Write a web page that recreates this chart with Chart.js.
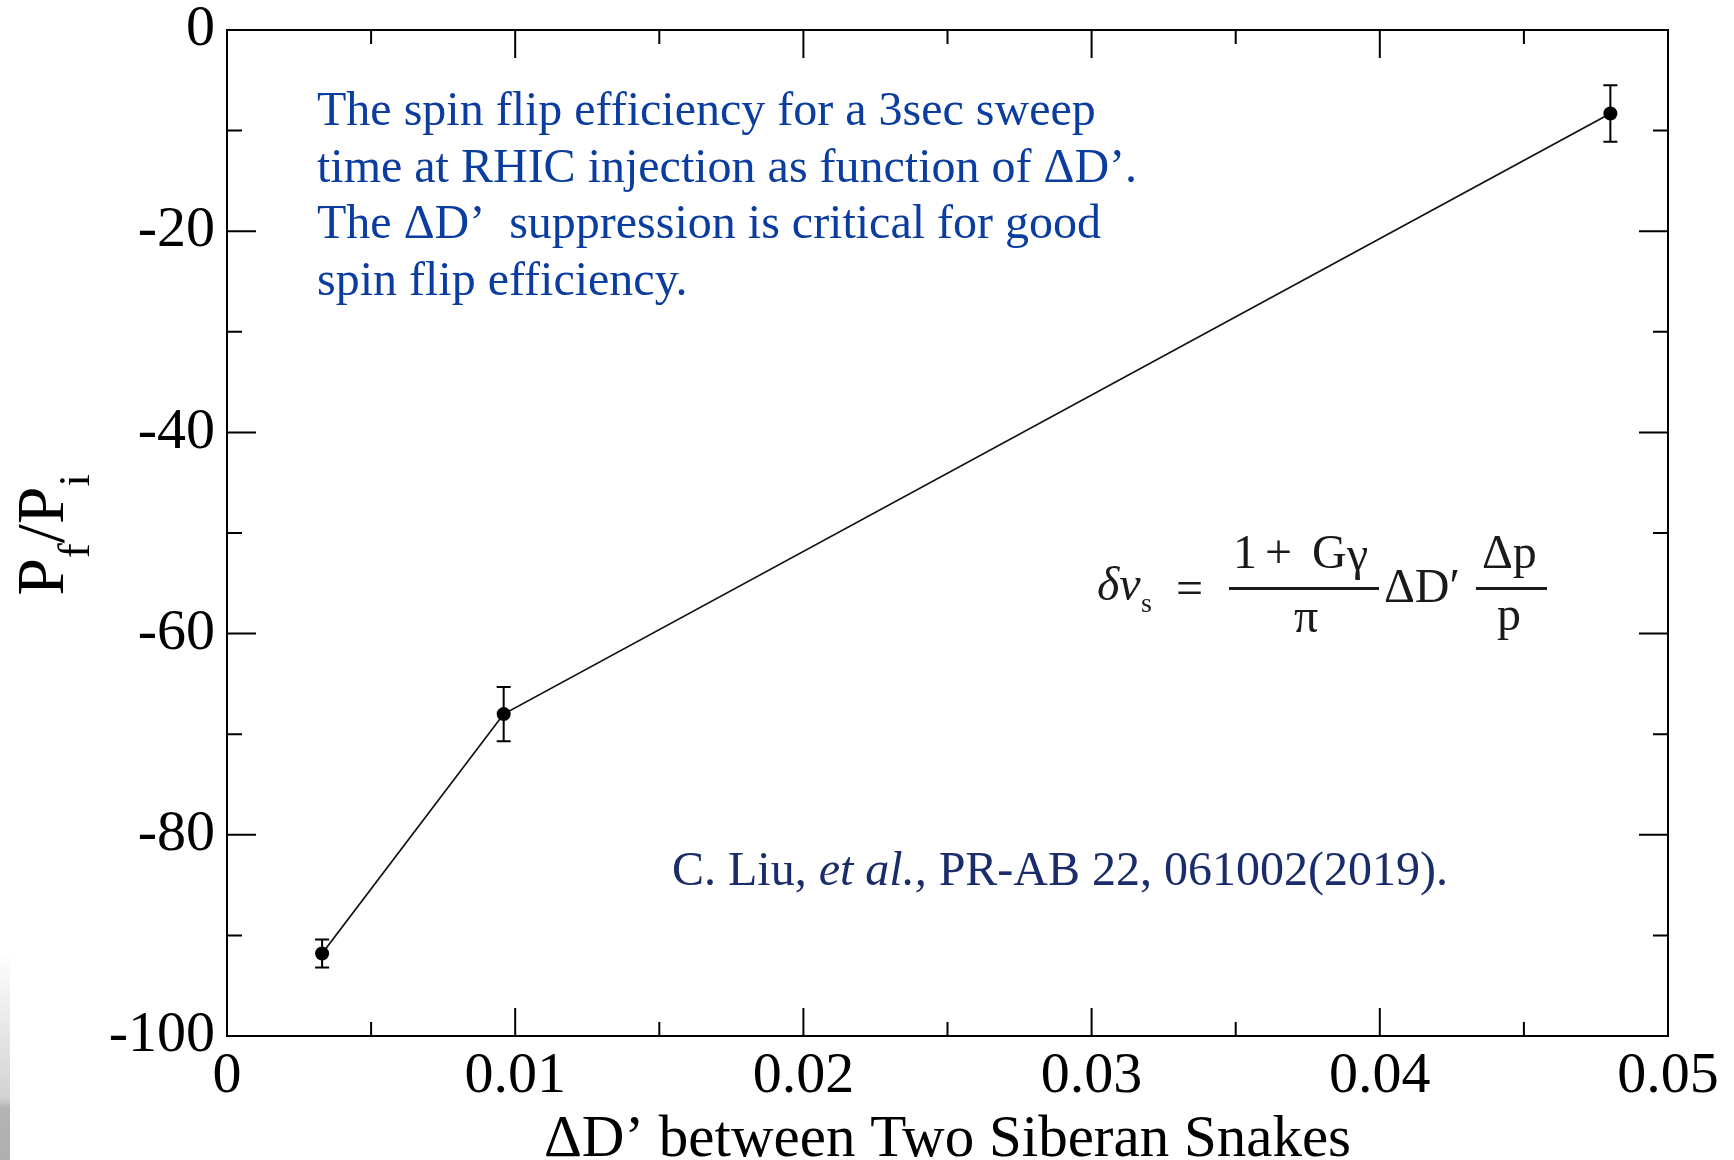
<!DOCTYPE html>
<html>
<head>
<meta charset="utf-8">
<script src="https://cdn.jsdelivr.net/npm/chart.js@4.4.0/dist/chart.umd.min.js"></script>
<style>
  body { margin: 0; background: #fff; }
  canvas { display: block; }
</style>
</head>
<body>
<canvas id="spinChart" width="1734" height="1160"></canvas>
<script>
// values
const deltaD = [0.0033, 0.0096, 0.0480];
const polRatio = [-91.8, -68.0, -8.3];
const polError = [1.4, 2.7, 2.8];

const xTickLabels = ['0', '0.01', '0.02', '0.03', '0.04', '0.05'];
const yTickLabels = ['0', '-20', '-40', '-60', '-80', '-100'];

const noteLines = [
    'The spin flip efficiency for a 3sec sweep',
    'time at RHIC injection as function of \u0394D\u2019.',
    'The \u0394D\u2019  suppression is critical for good',
    'spin flip efficiency.'
];
const xTitle = '\u0394D\u2019 between Two Siberan Snakes';

const serif = "'Liberation Serif', 'Times New Roman', Times, serif";

function isMajor(v, step) {
    const r = v / step;
    return Math.abs(r - Math.round(r)) < 1e-6;
}

function text(ctx, str, x, y, font, color, align) {
    ctx.font = font;
    ctx.fillStyle = color;
    ctx.textAlign = align || 'left';
    ctx.textBaseline = 'alphabetic';
    ctx.fillText(str, x, y);
}

const pageBackground = {
    id: 'pageBackground',
    beforeDraw(chart) {
        const ctx = chart.ctx;
        ctx.save();
        ctx.fillStyle = '#fff';
        ctx.fillRect(0, 0, chart.width, chart.height);
        const g = ctx.createLinearGradient(0, 950, 0, 1160);
        g.addColorStop(0, 'rgba(200,200,200,0)');
        g.addColorStop(0.7, 'rgba(200,200,200,0.8)');
        g.addColorStop(0.75, 'rgba(180,180,180,1)');
        g.addColorStop(1, 'rgba(175,175,175,1)');
        ctx.fillStyle = g;
        ctx.fillRect(0, 950, 10, 210);
        ctx.restore();
    }
};

const errorBars = {
    id: 'errorBars',
    afterDatasetsDraw(chart) {
        const { ctx, scales: { x, y } } = chart;
        ctx.save();
        ctx.strokeStyle = '#000';
        ctx.lineWidth = 2;
        ctx.beginPath();
        deltaD.forEach((d, i) => {
            const px = x.getPixelForValue(d);
            const top = y.getPixelForValue(polRatio[i] + polError[i]);
            const bot = y.getPixelForValue(polRatio[i] - polError[i]);
            ctx.moveTo(px, top); ctx.lineTo(px, bot);
            ctx.moveTo(px - 7, top); ctx.lineTo(px + 7, top);
            ctx.moveTo(px - 7, bot); ctx.lineTo(px + 7, bot);
        });
        ctx.stroke();
        ctx.restore();
    }
};

const frameTicks = {
    id: 'frameTicks',
    afterDraw(chart) {
        const { ctx, chartArea: a, scales: { x, y } } = chart;
        ctx.save();
        ctx.strokeStyle = '#000';
        ctx.lineWidth = 2;
        ctx.strokeRect(a.left, a.top, a.right - a.left, a.bottom - a.top);
        ctx.beginPath();
        x.ticks.forEach(t => {
            const px = x.getPixelForValue(t.value);
            const len = isMajor(t.value, 0.01) ? 28 : 14;
            ctx.moveTo(px, a.bottom); ctx.lineTo(px, a.bottom - len);
            ctx.moveTo(px, a.top); ctx.lineTo(px, a.top + len);
        });
        y.ticks.forEach(t => {
            const py = y.getPixelForValue(t.value);
            const len = isMajor(t.value, 20) ? 29 : 15;
            ctx.moveTo(a.left, py); ctx.lineTo(a.left + len, py);
            ctx.moveTo(a.right, py); ctx.lineTo(a.right - len, py);
        });
        ctx.stroke();
        ctx.restore();
    }
};

const annotations = {
    id: 'annotations',
    afterDraw(chart) {
        const ctx = chart.ctx;
        const a = chart.chartArea;
        ctx.save();

        // blue note
        noteLines.forEach((line, i) => {
            text(ctx, line, 317, 125 + i * 56.5, '48px ' + serif, '#0b3c9f');
        });

        // citation
        let cx = 672;
        const citeColor = '#1b2c6b';
        [['C. Liu, ', ''], ['et al.,', 'italic '], [' PR-AB 22, 061002(2019).', '']].forEach(([s, st]) => {
            text(ctx, s, cx, 885, st + '48px ' + serif, citeColor);
            cx += ctx.measureText(s).width;
        });

        // formula
        const fc = '#1a1a1a';
        const f48 = '48px ' + serif;
        text(ctx, '\u03b4\u03bd', 1097, 600, 'italic 48px ' + serif, fc);
        text(ctx, 's', 1141, 612, '28px ' + serif, fc);
        text(ctx, '=', 1176, 604, f48, fc);
        ctx.fillStyle = fc;
        ctx.fillRect(1229, 587, 150, 3);
        text(ctx, '1', 1233, 568, f48, fc);
        text(ctx, '+', 1265, 568, f48, fc);
        text(ctx, 'G', 1312, 568, f48, fc);
        text(ctx, '\u03b3', 1347, 570, f48, fc);
        text(ctx, '\u03c0', 1294, 632, f48, fc);
        text(ctx, '\u0394D\u2032', 1384, 602, f48, fc);
        ctx.fillRect(1476, 587, 71, 3);
        text(ctx, '\u0394p', 1482, 568, f48, fc);
        text(ctx, 'p', 1497, 630, f48, fc);

        // x axis title
        text(ctx, xTitle, (a.left + a.right) / 2, 1156, '59px ' + serif, '#000', 'center');

        // y axis title P_f/P_i, rotated
        ctx.translate(63, 535);
        ctx.rotate(-Math.PI / 2);
        const big = '68px ' + serif, small = '44px ' + serif;
        const parts = [['P', big, 0], ['f', small, 26], ['/', big, 0], ['P', big, 0], ['i', small, 26]];
        let total = 0;
        parts.forEach(p => { ctx.font = p[1]; total += ctx.measureText(p[0]).width; });
        let px = -total / 2;
        parts.forEach(p => {
            text(ctx, p[0], px, p[2], p[1], '#000');
            px += ctx.measureText(p[0]).width;
        });
        ctx.restore();
    }
};

const ctx = document.getElementById('spinChart').getContext('2d');

new Chart(ctx, {
    type: 'scatter',
    data: {
        datasets: [{
            data: deltaD.map((d, i) => ({ x: d, y: polRatio[i] })),
            showLine: true,
            borderColor: '#111',
            borderWidth: 1.8,
            backgroundColor: '#000',
            pointRadius: 7,
            pointBorderWidth: 0,
            pointHoverRadius: 7
        }]
    },
    options: {
        responsive: false,
        animation: false,
        layout: { padding: { top: 30, right: 66, left: 0, bottom: 0 } },
        plugins: {
            legend: { display: false },
            tooltip: { enabled: false }
        },
        scales: {
            x: {
                type: 'linear',
                min: 0,
                max: 0.05,
                grid: { display: false, drawTicks: false },
                border: { display: false },
                ticks: {
                    stepSize: 0.005,
                    autoSkip: false,
                    maxRotation: 0,
                    padding: 12,
                    color: '#000',
                    font: { family: serif, size: 58, lineHeight: 1 },
                    callback: v => isMajor(v, 0.01) ? xTickLabels[Math.round(v / 0.01)] : ''
                },
                afterFit: scale => {
                    scale.height = 124;
                    scale.paddingLeft = 0;
                    scale.paddingRight = 0;
                }
            },
            y: {
                min: -100,
                max: 0,
                grid: { display: false, drawTicks: false },
                border: { display: false },
                ticks: {
                    stepSize: 10,
                    autoSkip: false,
                    padding: 12,
                    color: '#000',
                    font: { family: serif, size: 58, lineHeight: 1 },
                    callback: v => isMajor(v, 20) ? yTickLabels[Math.round(-v / 20)] : ''
                },
                afterFit: scale => {
                    scale.width = 227;
                    scale.paddingTop = 0;
                    scale.paddingBottom = 0;
                }
            }
        }
    },
    plugins: [pageBackground, errorBars, frameTicks, annotations]
});
</script>
</body>
</html>
